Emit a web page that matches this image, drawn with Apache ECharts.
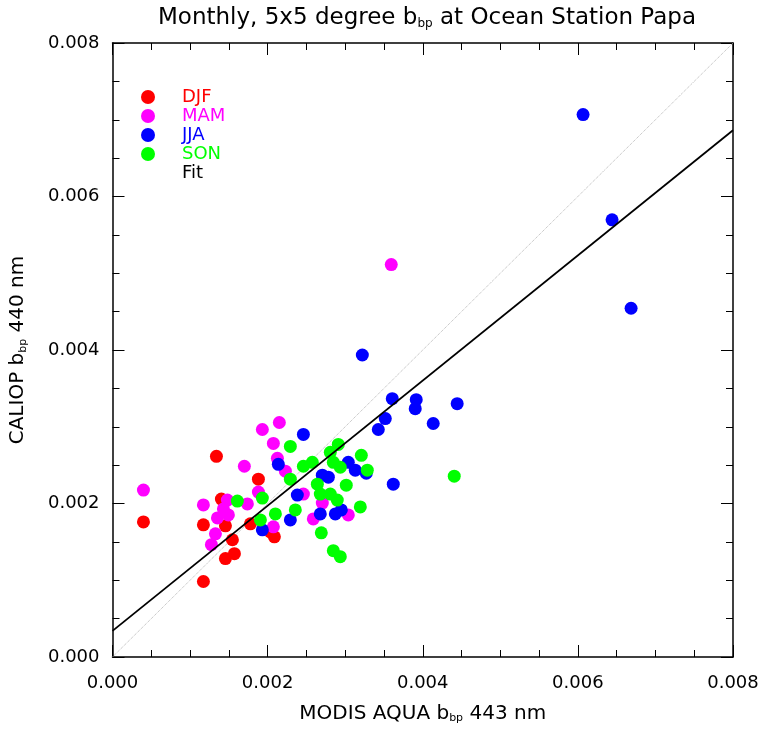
<!DOCTYPE html>
<html lang="en">
<head>
    <meta charset="UTF-8">
    <title>Monthly bbp at Ocean Station Papa</title>
    <script type="text/javascript" src="https://cdn.jsdelivr.net/npm/echarts@6/dist/echarts.min.js"></script>
    <style type="text/css">
        html, body { margin: 0; padding: 0; background: #fff; }
        #chartDiv { width: 765px; height: 729px; }
    </style>
</head>
<body>
    <div id="chartDiv"></div>
</body>

<script type="text/javascript">
    // season points: [MODIS AQUA bbp 443, CALIOP bbp 440]
    var djf = [
        [0.000399, 0.001760], [0.001340, 0.002615], [0.001881, 0.002317], [0.001404, 0.002058],
        [0.001172, 0.001722], [0.001456, 0.001709], [0.001778, 0.001735], [0.002087, 0.001566],
        [0.002035, 0.001631], [0.001546, 0.001528], [0.001456, 0.001282], [0.001572, 0.001346],
        [0.001172, 0.000984]
    ];
    var mam = [
        [0.000399, 0.002175], [0.001932, 0.002964], [0.002151, 0.003055], [0.002074, 0.002783],
        [0.001700, 0.002485], [0.002126, 0.002589], [0.002229, 0.002421], [0.001172, 0.001981],
        [0.001881, 0.002149], [0.001739, 0.001994], [0.001481, 0.002045], [0.001353, 0.001812],
        [0.001494, 0.001851], [0.001430, 0.001929], [0.001327, 0.001605], [0.001275, 0.001463],
        [0.002074, 0.001696], [0.002589, 0.001799], [0.002461, 0.002123], [0.002705, 0.002006],
        [0.003040, 0.001851], [0.003594, 0.005113]
    ];
    var jja = [
        [0.006067, 0.007068], [0.006441, 0.005696], [0.006686, 0.004544], [0.003221, 0.003935],
        [0.003607, 0.003366], [0.003916, 0.003353], [0.003903, 0.003236], [0.004444, 0.003301],
        [0.003517, 0.003107], [0.003427, 0.002964], [0.004135, 0.003042], [0.002461, 0.002900],
        [0.002138, 0.002511], [0.003040, 0.002537], [0.003130, 0.002434], [0.003272, 0.002395],
        [0.002705, 0.002369], [0.002783, 0.002343], [0.003620, 0.002252], [0.002383, 0.002110],
        [0.001932, 0.001657], [0.002293, 0.001786], [0.002679, 0.001864], [0.002873, 0.001864],
        [0.002950, 0.001916]
    ];
    var son = [
        [0.002293, 0.002744], [0.002911, 0.002770], [0.002808, 0.002667], [0.002461, 0.002485],
        [0.002576, 0.002537], [0.002847, 0.002537], [0.002937, 0.002472], [0.003208, 0.002628],
        [0.003285, 0.002434], [0.002293, 0.002317], [0.002641, 0.002252], [0.003014, 0.002239],
        [0.002679, 0.002123], [0.002808, 0.002123], [0.002898, 0.002045], [0.002357, 0.001916],
        [0.003195, 0.001955], [0.002692, 0.001618], [0.002847, 0.001385], [0.002937, 0.001307],
        [0.004406, 0.002356], [0.001610, 0.002032], [0.001932, 0.002071], [0.002100, 0.001864],
        [0.001907, 0.001786]
    ];

    var fitSlope = 0.8155;
    var fitIntercept = 0.00034;
    var axisMin = 0, axisMax = 0.008;
    var tickLabels = ['0.000', '0.002', '0.004', '0.006', '0.008'];

    var seasonNames = ['DJF', 'MAM', 'JJA', 'SON'];
    var seasonColors = ['#ff0000', '#ff00ff', '#0000ff', '#00ff00'];
    var seasonData = [djf, mam, jja, son];

    var fitLine = [[axisMin, fitIntercept + fitSlope * axisMin], [axisMax, fitIntercept + fitSlope * axisMax]];
    var oneToOne = [[axisMin, axisMin], [axisMax, axisMax]];

    var font = 'DejaVu Sans';
    var labelFmt = function (v) {
        var i = Math.round(v / 0.002);
        return tickLabels[i] !== undefined ? tickLabels[i] : '';
    };

    function makeAxis(pos, showLabel, name) {
        return {
            type: 'value', position: pos, min: axisMin, max: axisMax, interval: 0.002,
            name: name || '', nameLocation: 'middle',
            axisLine: { show: true, onZero: false, lineStyle: { color: '#000', width: 1.5 } },
            axisTick: { show: true, inside: true, length: 12, lineStyle: { color: '#000' } },
            minorTick: { show: true, splitNumber: 4, length: 7, lineStyle: { color: '#000' } },
            splitLine: { show: false },
            axisLabel: { show: showLabel, formatter: labelFmt, color: '#000', fontFamily: font, fontSize: 18 }
        };
    }

    var sub = { fontSize: 11, fontFamily: font, color: '#000', verticalAlign: 'bottom', padding: [10, 0, 0, 0] };
    var main = { fontSize: 20, fontFamily: font, color: '#000' };
    var titleMain = { fontSize: 23, fontFamily: font, color: '#000' };
    var titleSub = { fontSize: 12, fontFamily: font, color: '#000', verticalAlign: 'bottom', padding: [11, 0, 0, 0] };

    var xAxisBottom = makeAxis('bottom', true, '{a|MODIS AQUA b}{s|bp}{a| 443 nm}');
    xAxisBottom.nameGap = 46;
    xAxisBottom.nameTextStyle = { rich: { a: main, s: sub } };
    xAxisBottom.axisLabel.margin = 17;
    var xAxisTop = makeAxis('top', false);

    var yAxisLeft = makeAxis('left', true, '{a|CALIOP b}{s|bp}{a| 440 nm}');
    yAxisLeft.nameGap = 84;
    yAxisLeft.nameTextStyle = { rich: { a: main, s: sub } };
    yAxisLeft.axisLabel.margin = 13;
    var yAxisRight = makeAxis('right', false);

    var series = [];
    for (var i = 0; i < seasonNames.length; i++) {
        series.push({
            name: seasonNames[i], type: 'scatter', xAxisIndex: 0, yAxisIndex: 0,
            symbol: 'circle', symbolSize: 13,
            itemStyle: { color: seasonColors[i], opacity: 1 },
            data: seasonData[i], z: 3
        });
    }
    series.push({
        name: '1:1', type: 'line', data: oneToOne, symbol: 'none', silent: true,
        lineStyle: { color: '#b4b4b4', width: 1, type: 'dotted' }, z: 2
    });
    series.push({
        name: 'Fit', type: 'line', data: fitLine, symbol: 'none', silent: true,
        lineStyle: { color: '#000', width: 1.8 }, z: 4
    });

    var chart = echarts.init(document.getElementById('chartDiv'));
    chart.setOption({
        backgroundColor: '#fff',
        animation: false,
        title: {
            text: '{a|Monthly, 5x5 degree b}{s|bp}{a| at Ocean Station Papa}',
            left: 422, top: 2, textAlign: 'center',
            textStyle: { fontWeight: 'normal', rich: { a: titleMain, s: titleSub } }
        },
        legend: {
            orient: 'vertical', left: 136, top: 83, itemGap: 1,
            itemWidth: 14, itemHeight: 14,
            textStyle: { fontFamily: font, fontSize: 18, padding: [0, 0, 0, 22] },
            data: [
                { name: 'DJF', icon: 'circle', textStyle: { color: seasonColors[0] } },
                { name: 'MAM', icon: 'circle', textStyle: { color: seasonColors[1] } },
                { name: 'JJA', icon: 'circle', textStyle: { color: seasonColors[2] } },
                { name: 'SON', icon: 'circle', textStyle: { color: seasonColors[3] } },
                { name: 'Fit', icon: 'none', textStyle: { color: '#000' } }
            ]
        },
        grid: { left: 112, right: 32, top: 43, bottom: 68 },
        xAxis: [xAxisBottom, xAxisTop],
        yAxis: [yAxisLeft, yAxisRight],
        series: series
    });
</script>
</html>
